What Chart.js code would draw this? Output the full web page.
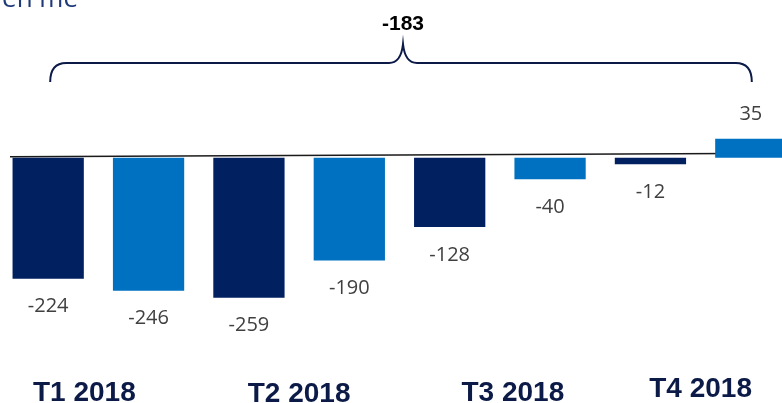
<!DOCTYPE html>
<html>
<head>
<meta charset="utf-8">
<script src="https://cdn.jsdelivr.net/npm/chart.js@4/dist/chart.umd.min.js"></script>
<style>
  html, body { margin: 0; padding: 0; background: #fff; overflow: hidden; width: 782px; height: 403px; }
  #wrap { position: absolute; left: -2px; top: 0; width: 803px; height: 403px; }
</style>
</head>
<body>
<div id="wrap"><canvas id="resultChart"></canvas></div>
<script>
// monthly results, two bars per quarter
var months = ["1", "2", "3", "4", "5", "6", "7", "8"];
var results = [-224, -246, -259, -190, -128, -40, -12, 35];
var quarters = ["T1 2018", "T2 2018", "T3 2018", "T4 2018"];
var totalLabel = "-183";
var headerText = "Résultat net en me";

var navy = "#002060";
var blue = "#0070C0";
var barColors = results.map(function (v, i) { return i % 2 === 0 ? navy : blue; });

// small nudges for the quarter captions (x, y)
var quarterShift = [[-14, 0], [0, 1], [13, 0], [0, -4]];

var overlay = {
    id: "overlay",
    beforeDatasetsDraw: function (chart) {
        // baseline sits under the bars
        var ctx = chart.ctx;
        var zero = chart.scales.y.getPixelForValue(0);
        ctx.save();
        ctx.strokeStyle = "#1a1a1a";
        ctx.lineWidth = 1.6;
        ctx.beginPath();
        ctx.moveTo(12, zero - 1);
        ctx.lineTo(790, zero - 4.5);
        ctx.stroke();
        ctx.restore();
    },
    afterDatasetsDraw: function (chart) {
        var ctx = chart.ctx;
        var meta = chart.getDatasetMeta(0);
        ctx.save();

        // value labels
        ctx.fillStyle = "#404040";
        ctx.font = "20px 'Open Sans'";
        ctx.textAlign = "center";
        ctx.textBaseline = "middle";
        meta.data.forEach(function (bar, i) {
            var v = results[i];
            var ty = v < 0 ? bar.y + 28 : bar.y - 25;
            ctx.fillText(String(v), bar.x, ty);
        });

        // quarter captions under each pair of bars
        ctx.fillStyle = "#0c1a48";
        ctx.font = "bold 28px 'Liberation Sans'";
        ctx.textBaseline = "alphabetic";
        quarters.forEach(function (q, i) {
            var cx = (meta.data[i * 2].x + meta.data[i * 2 + 1].x) / 2 + quarterShift[i][0];
            ctx.fillText(q, cx, 401 + quarterShift[i][1]);
        });

        // brace spanning all months
        var L = meta.data[0].x + 2;
        var R = meta.data[meta.data.length - 1].x + 1;
        var M = (L + R) / 2 + 2;
        var top = 63, bot = 82, tip = 44;
        ctx.strokeStyle = "#0c1a48";
        ctx.lineWidth = 2;
        ctx.beginPath();
        ctx.moveTo(L, bot);
        ctx.quadraticCurveTo(L, top, L + 16, top);
        ctx.lineTo(M - 14, top);
        ctx.quadraticCurveTo(M - 2, top, M, tip);
        ctx.quadraticCurveTo(M + 2, top, M + 14, top);
        ctx.lineTo(R - 16, top);
        ctx.quadraticCurveTo(R, top, R, bot);
        ctx.stroke();

        ctx.fillStyle = "#000";
        ctx.font = "bold 21px 'Liberation Sans'";
        ctx.textAlign = "center";
        ctx.fillText(totalLabel, M, 30);

        // header text, mostly above the frame
        ctx.fillStyle = "#1f3a78";
        ctx.font = "26px 'Open Sans'";
        ctx.textAlign = "right";
        ctx.fillText(headerText, 80, 7);

        ctx.restore();
    }
};

var chart = new Chart(document.getElementById("resultChart"), {
    type: "bar",
    data: {
        labels: months,
        datasets: [{
            data: results,
            backgroundColor: barColors,
            borderWidth: 0,
            barPercentage: 0.71,
            categoryPercentage: 1
        }]
    },
    options: {
        responsive: true,
        maintainAspectRatio: false,
        animation: false,
        layout: { padding: 0 },
        plugins: {
            legend: { display: false },
            tooltip: { enabled: false }
        },
        scales: {
            x: { display: false, grid: { display: false } },
            y: { display: false, min: -454, max: 292, grid: { display: false } }
        }
    },
    plugins: [overlay]
});
</script>
</body>
</html>
